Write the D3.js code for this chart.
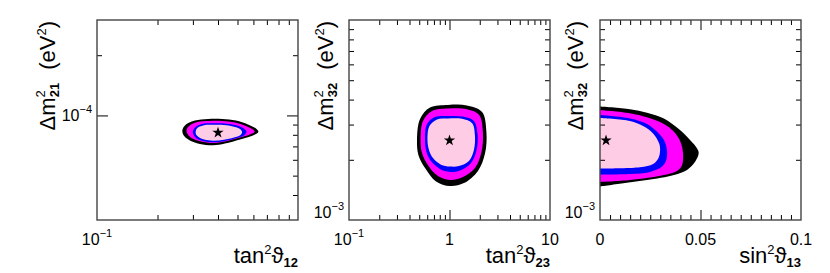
<!DOCTYPE html>
<html lang="en">
<head>
<meta charset="UTF-8">
<script src="https://d3js.org/d3.v7.min.js"></script>
<title>Oscillation parameter contours</title>
<style>
  body { margin: 0; background: #fff; }
  svg { display: block; font-family: "Liberation Sans", Arial, sans-serif; }
</style>
</head>
<body>
<div id="container"></div>
<script>
// ---- contour boundaries, [x, y] in axis units ----
// panel 1: tan^2 theta12 vs dm^2_21
const solarBlack = [[0.266,8.46e-5],[0.277,9.01e-5],[0.307,9.43e-5],[0.357,9.60e-5],[0.419,9.60e-5],[0.491,9.43e-5],[0.564,9.01e-5],[0.622,8.55e-5],[0.635,8.26e-5],[0.597,7.94e-5],[0.515,7.58e-5],[0.433,7.24e-5],[0.378,7.09e-5],[0.325,7.20e-5],[0.287,7.54e-5],[0.269,7.98e-5]];
const solarMagenta = [[0.279,8.46e-5],[0.289,8.90e-5],[0.315,9.27e-5],[0.361,9.38e-5],[0.419,9.38e-5],[0.486,9.22e-5],[0.551,8.85e-5],[0.601,8.46e-5],[0.608,8.26e-5],[0.577,8.03e-5],[0.503,7.71e-5],[0.433,7.41e-5],[0.378,7.28e-5],[0.329,7.41e-5],[0.295,7.71e-5],[0.282,8.07e-5]];
const solarBlue = [[0.300,8.36e-5],[0.309,8.75e-5],[0.333,9.06e-5],[0.373,9.13e-5],[0.428,9.12e-5],[0.486,8.96e-5],[0.533,8.65e-5],[0.554,8.31e-5],[0.542,7.98e-5],[0.497,7.71e-5],[0.433,7.45e-5],[0.378,7.34e-5],[0.337,7.45e-5],[0.311,7.71e-5],[0.302,8.03e-5]];
const solarPink = [[0.310,8.36e-5],[0.318,8.70e-5],[0.341,8.94e-5],[0.378,8.98e-5],[0.428,8.96e-5],[0.475,8.80e-5],[0.515,8.55e-5],[0.527,8.26e-5],[0.518,7.98e-5],[0.480,7.76e-5],[0.428,7.56e-5],[0.378,7.48e-5],[0.341,7.58e-5],[0.320,7.80e-5],[0.311,8.03e-5]];
const solarBest = [0.40, 8.2e-5];

// panel 2: tan^2 theta23 vs dm^2_32
const atmBlack = [[0.475,2.51e-3],[0.509,3.20e-3],[0.640,3.65e-3],[0.966,3.76e-3],[1.49,3.74e-3],[2.11,3.47e-3],[2.33,2.75e-3],[2.26,2.16e-3],[1.92,1.76e-3],[1.39,1.53e-3],[1.01,1.48e-3],[0.734,1.56e-3],[0.571,1.82e-3],[0.491,2.11e-3]];
const atmMagenta = [[0.515,2.51e-3],[0.545,3.13e-3],[0.670,3.51e-3],[0.966,3.61e-3],[1.46,3.59e-3],[1.97,3.35e-3],[2.15,2.75e-3],[2.08,2.19e-3],[1.79,1.82e-3],[1.33,1.63e-3],[1.01,1.585e-3],[0.768,1.66e-3],[0.611,1.88e-3],[0.533,2.16e-3]];
const atmBlue = [[0.571,2.51e-3],[0.597,3.02e-3],[0.717,3.27e-3],[0.966,3.31e-3],[1.36,3.29e-3],[1.75,3.13e-3],[1.90,2.69e-3],[1.86,2.24e-3],[1.64,1.93e-3],[1.27,1.77e-3],[1.01,1.74e-3],[0.804,1.80e-3],[0.654,1.97e-3],[0.590,2.19e-3]];
const atmPink = [[0.604,2.51e-3],[0.632,2.95e-3],[0.751,3.18e-3],[0.966,3.22e-3],[1.33,3.21e-3],[1.68,3.05e-3],[1.79,2.66e-3],[1.75,2.24e-3],[1.56,1.97e-3],[1.24,1.86e-3],[1.01,1.85e-3],[0.823,1.89e-3],[0.685,2.04e-3],[0.625,2.24e-3]];
const atmBest = [1.0, 2.5e-3];

// panel 3: sin^2 theta13 vs dm^2_32 (open at x = 0)
const t13Black = [[0,3.69e-3],[0.0149,3.58e-3],[0.0234,3.44e-3],[0.0318,3.22e-3],[0.0398,2.82e-3],[0.0448,2.51e-3],[0.0483,2.28e-3],[0.0491,2.16e-3],[0.0474,1.96e-3],[0.0433,1.78e-3],[0.0368,1.68e-3],[0.0234,1.585e-3],[0.0124,1.53e-3],[0,1.47e-3]];
const t13Magenta = [[0,3.55e-3],[0.0149,3.42e-3],[0.0234,3.26e-3],[0.0318,3.02e-3],[0.0368,2.76e-3],[0.0400,2.46e-3],[0.0413,2.16e-3],[0.0408,1.88e-3],[0.0383,1.76e-3],[0.0318,1.68e-3],[0.0149,1.585e-3],[0,1.55e-3]];
const t13Blue = [[0,3.35e-3],[0.0149,3.22e-3],[0.0234,3.02e-3],[0.0284,2.76e-3],[0.0318,2.51e-3],[0.0333,2.24e-3],[0.0330,2.0e-3],[0.0309,1.85e-3],[0.0249,1.74e-3],[0.0149,1.70e-3],[0,1.69e-3]];
const t13Pink = [[0,3.24e-3],[0.0149,3.13e-3],[0.0214,2.95e-3],[0.0264,2.71e-3],[0.0294,2.42e-3],[0.0299,2.24e-3],[0.0290,2.03e-3],[0.0264,1.905e-3],[0.0199,1.835e-3],[0,1.81e-3]];
const t13Best = [0.003, 2.5e-3];

// ---- ticks and tick labels ----
const p1XMinor = [0.2,0.3,0.4,0.5,0.6,0.7,0.8,0.9];
const p1YMinor = [4e-5,5e-5,6e-5,7e-5,8e-5,9e-5,2e-4];
const p1YMinorLeft = [2e-4];
const p1YMajor = [1e-4];
const p2XMinor = [0.2,0.3,0.4,0.5,0.6,0.7,0.8,0.9,2,3,4,5,6,7,8,9];
const p2XMajor = [1];
const dm32Minor = [2e-3,3e-3,4e-3,5e-3,6e-3,7e-3,8e-3,9e-3];
const p3XMinor = [0.005,0.01,0.015,0.02,0.025,0.03,0.035,0.04,0.045,0.055,0.06,0.065,0.07,0.075,0.08,0.085,0.09,0.095];
const p3XMajor = [0.05];

const p1XLabels = [[0.1,"10","\u22121"]];
const p1YLabels = [[1e-4,"10","\u22124"]];
const p2XLabels = [[0.1,"10","\u22121"],[1,"1",""],[10,"10",""]];
const dm32Labels = [[1e-3,"10","\u22123"]];
const p3XLabels = [[0,"0",""],[0.05,"0.05",""],[0.1,"0.1",""]];

const W = 830, H = 273, frameTop = 20, frameBottom = 220, pw = 201;
const colors = ["#000000", "#ff00ff", "#0000ff", "#ffcce6"];

const svg = d3.select("#container").append("svg")
    .attr("width", W).attr("height", H);

const panels = [
  { x0: 97, x: d3.scaleLog().domain([0.1, 1]), y: d3.scaleLog().domain([3e-5, 3e-4]),
    contours: [solarBlack, solarMagenta, solarBlue, solarPink], closed: true, best: solarBest,
    xMinor: p1XMinor, xMajor: [], yMinorR: p1YMinor, yMinorL: p1YMinorLeft, yMajor: p1YMajor,
    xLabels: p1XLabels, yLabels: p1YLabels, xFunc: "tan", xSub: "12", ySub: "21", titleX: 55 },
  { x0: 349, x: d3.scaleLog().domain([0.1, 10]), y: d3.scaleLog().domain([1e-3, 1e-2]),
    contours: [atmBlack, atmMagenta, atmBlue, atmPink], closed: true, best: atmBest,
    xMinor: p2XMinor, xMajor: p2XMajor, yMinorR: dm32Minor, yMinorL: dm32Minor, yMajor: [],
    xLabels: p2XLabels, yLabels: dm32Labels, xFunc: "tan", xSub: "23", ySub: "32", titleX: 333 },
  { x0: 600, x: d3.scaleLinear().domain([0, 0.1]), y: d3.scaleLog().domain([1e-3, 1e-2]),
    contours: [t13Black, t13Magenta, t13Blue, t13Pink], closed: false, best: t13Best,
    xMinor: p3XMinor, xMajor: p3XMajor, yMinorR: dm32Minor, yMinorL: dm32Minor, yMajor: [],
    xLabels: p3XLabels, yLabels: dm32Labels, xFunc: "sin", xSub: "13", ySub: "32", titleX: 583 }
];

function tickAxis(g, axisFn, scale, values, size, transform) {
  g.append("g")
    .attr("transform", transform)
    .call(axisFn(scale).tickValues(values).tickSize(size).tickSizeOuter(0).tickFormat(""))
    .call(a => a.select(".domain").remove())
    .call(a => a.selectAll("line").attr("stroke", "#000"));
}

panels.forEach((p, i) => {
  const x1 = p.x0 + pw;
  p.x.range([p.x0, x1]);
  p.y.range([frameBottom, frameTop]);
  const g = svg.append("g");

  g.append("clipPath").attr("id", "clip" + i)
    .append("rect").attr("x", p.x0).attr("y", frameTop).attr("width", pw).attr("height", frameBottom - frameTop);

  const line = d3.line()
      .x(d => p.x(d[0])).y(d => p.y(d[1]))
      .curve(p.closed ? d3.curveCatmullRomClosed : d3.curveCatmullRom);

  g.append("g").attr("clip-path", `url(#clip${i})`)
    .selectAll("path").data(p.contours).join("path")
      .attr("d", d => line(d) + (p.closed ? "" : "Z"))
      .attr("fill", (d, k) => colors[k]);

  g.append("path")
    .attr("d", d3.symbol(d3.symbolStar, 40)())
    .attr("transform", `translate(${p.x(p.best[0])},${p.y(p.best[1])})`)
    .attr("fill", "#000");

  // inward ticks on all four sides
  tickAxis(g, d3.axisTop, p.x, p.xMinor, 5, `translate(0,${frameBottom})`);
  tickAxis(g, d3.axisBottom, p.x, p.xMinor, 5, `translate(0,${frameTop})`);
  tickAxis(g, d3.axisTop, p.x, p.xMajor, 10, `translate(0,${frameBottom})`);
  tickAxis(g, d3.axisBottom, p.x, p.xMajor, 10, `translate(0,${frameTop})`);
  tickAxis(g, d3.axisRight, p.y, p.yMinorL, 5, `translate(${p.x0},0)`);
  tickAxis(g, d3.axisLeft, p.y, p.yMinorR, 5, `translate(${x1},0)`);
  tickAxis(g, d3.axisRight, p.y, p.yMajor, 11, `translate(${p.x0},0)`);
  tickAxis(g, d3.axisLeft, p.y, p.yMajor, 11, `translate(${x1},0)`);

  g.append("rect")
    .attr("x", p.x0).attr("y", frameTop).attr("width", pw).attr("height", frameBottom - frameTop)
    .attr("fill", "none").attr("stroke", "#444").attr("stroke-width", 1.4);

  // tick labels
  p.xLabels.forEach(([v, base, exp]) => {
    const t = g.append("text").attr("x", p.x(v)).attr("y", 245)
      .attr("text-anchor", "middle").attr("font-size", 16);
    t.append("tspan").text(base);
    if (exp) t.append("tspan").attr("font-size", 11).attr("dy", -8).text(exp);
  });
  p.yLabels.forEach(([v, base, exp]) => {
    const t = g.append("text").attr("x", p.x0 - 5).attr("y", Math.min(p.y(v) + 6, 218))
      .attr("text-anchor", "end").attr("font-size", 16);
    t.append("tspan").text(base);
    t.append("tspan").attr("font-size", 11).attr("dy", -8).text(exp);
  });

  // x title
  const xt = g.append("text").attr("x", x1).attr("y", 263)
    .attr("text-anchor", "end").attr("font-size", 22);
  xt.append("tspan").text(p.xFunc);
  xt.append("tspan").attr("font-size", 13).attr("dy", -9).text("2");
  xt.append("tspan").attr("dy", 9).text("\u03D1");
  xt.append("tspan").attr("font-size", 13).attr("font-weight", "bold").attr("dy", 4).text(p.xSub);

  // y title, rotated, aligned to the top of the frame
  const yt = g.append("text")
    .attr("transform", `translate(${p.titleX},${frameTop + 1}) rotate(-90)`)
    .attr("text-anchor", "end").attr("font-size", 22);
  yt.append("tspan").text("\u0394m");
  yt.append("tspan").attr("font-size", 13).attr("dy", -10).text("2");
  yt.append("tspan").attr("font-size", 13).attr("font-weight", "bold").attr("dx", -7).attr("dy", 14).text(p.ySub);
  yt.append("tspan").attr("dx", 2).attr("dy", -4).text("\u2002(eV");
  yt.append("tspan").attr("font-size", 13).attr("dy", -9).text("2");
  yt.append("tspan").attr("dy", 9).text(")");
});
</script>
</body>
</html>
